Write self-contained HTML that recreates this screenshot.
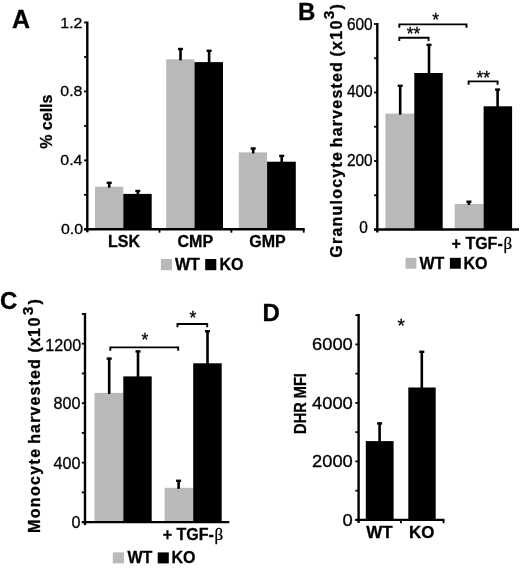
<!DOCTYPE html>
<html><head><meta charset="utf-8"><title>Figure</title>
<style>
html,body{margin:0;padding:0;background:#fff;}
svg{display:block;font-family:"Liberation Sans",sans-serif;fill:#000;filter:blur(0.45px);}
text{stroke:#000;stroke-width:0.3px;}
</style></head><body>
<svg width="520" height="570" viewBox="0 0 520 570">
<rect x="0" y="0" width="520" height="570" fill="#fff"/>
<text transform="translate(12 28) scale(1.0 1)" font-size="25" font-weight="bold" text-anchor="start">A</text>
<rect x="95" y="186.7" width="28.3" height="42.6" fill="#b9b9b9"/>
<line x1="109.2" y1="182.1" x2="109.2" y2="187.7" stroke="#000" stroke-width="2.6"/>
<rect x="106.7" y="181.6" width="5.0" height="2.4" fill="#000"/>
<rect x="123.3" y="193.9" width="28.4" height="35.4" fill="#000"/>
<line x1="137.8" y1="190.3" x2="137.8" y2="194.9" stroke="#000" stroke-width="2.6"/>
<rect x="135.3" y="189.8" width="5.0" height="2.4" fill="#000"/>
<rect x="166.2" y="59.3" width="28.3" height="170.0" fill="#b9b9b9"/>
<line x1="180.5" y1="48.3" x2="180.5" y2="60.3" stroke="#000" stroke-width="2.6"/>
<rect x="178.0" y="47.8" width="5.0" height="2.4" fill="#000"/>
<rect x="194.5" y="62.1" width="28.5" height="167.2" fill="#000"/>
<line x1="209.1" y1="50.1" x2="209.1" y2="63.1" stroke="#000" stroke-width="2.6"/>
<rect x="206.6" y="49.6" width="5.0" height="2.4" fill="#000"/>
<rect x="238.8" y="152.4" width="28.3" height="76.9" fill="#b9b9b9"/>
<line x1="253.2" y1="147.8" x2="253.2" y2="153.4" stroke="#000" stroke-width="2.6"/>
<rect x="250.7" y="147.3" width="5.0" height="2.4" fill="#000"/>
<rect x="267.1" y="161.7" width="28.7" height="67.6" fill="#000"/>
<line x1="281.7" y1="155.2" x2="281.7" y2="162.7" stroke="#000" stroke-width="2.6"/>
<rect x="279.2" y="154.7" width="5.0" height="2.4" fill="#000"/>
<text transform="translate(124 246.5) scale(1.0 1)" font-size="16" font-weight="bold" text-anchor="middle">LSK</text>
<text transform="translate(195.3 246.5) scale(1.0 1)" font-size="16" font-weight="bold" text-anchor="middle">CMP</text>
<text transform="translate(267.5 246.5) scale(1.0 1)" font-size="16" font-weight="bold" text-anchor="middle">GMP</text>
<text transform="translate(52.4 121.7) rotate(-90) scale(1.0 1)" font-size="16" font-weight="bold" text-anchor="middle">% cells</text>
<rect x="160.9" y="259" width="11.1" height="11.2" fill="#b9b9b9"/>
<text transform="translate(175 270) scale(1.0 1)" font-size="16" font-weight="bold" text-anchor="start">WT</text>
<rect x="205.2" y="259" width="11.1" height="11.2" fill="#000"/>
<text transform="translate(219.5 270) scale(1.0 1)" font-size="16" font-weight="bold" text-anchor="start">KO</text>
<text transform="translate(298 19.8) scale(1.0 1)" font-size="24" font-weight="bold" text-anchor="start">B</text>
<rect x="385.4" y="113.6" width="28.9" height="115.9" fill="#b9b9b9"/>
<line x1="400.2" y1="85.1" x2="400.2" y2="114.6" stroke="#000" stroke-width="2.6"/>
<rect x="397.7" y="84.6" width="5.0" height="2.4" fill="#000"/>
<rect x="414.3" y="73" width="28.4" height="156.5" fill="#000"/>
<line x1="429" y1="44.2" x2="429" y2="74" stroke="#000" stroke-width="2.6"/>
<rect x="426.5" y="43.7" width="5.0" height="2.4" fill="#000"/>
<rect x="454.7" y="203.9" width="28.9" height="25.6" fill="#b9b9b9"/>
<line x1="468.9" y1="201.0" x2="468.9" y2="204.9" stroke="#000" stroke-width="2.6"/>
<rect x="466.4" y="200.5" width="5.0" height="2.4" fill="#000"/>
<rect x="483.6" y="106.3" width="28.5" height="123.2" fill="#000"/>
<line x1="497.6" y1="88.9" x2="497.6" y2="107.3" stroke="#000" stroke-width="2.6"/>
<rect x="495.1" y="88.4" width="5.0" height="2.4" fill="#000"/>
<path d="M399.3 27.7V24.4H466.5V27.7" fill="none" stroke="#000" stroke-width="1.9"/>
<text transform="translate(435.6 26.3) scale(1.0 1)" font-size="17.5" text-anchor="middle">*</text>
<path d="M399.3 41.099999999999994V37.8H428.6V41.099999999999994" fill="none" stroke="#000" stroke-width="1.9"/>
<text transform="translate(413.6 40.2) scale(1.0 1)" font-size="17.5" text-anchor="middle">**</text>
<path d="M468.6 84.7V81.4H497.6V84.7" fill="none" stroke="#000" stroke-width="1.9"/>
<text transform="translate(483.3 84.0) scale(1.0 1)" font-size="17.5" text-anchor="middle">**</text>
<text transform="translate(451.6 248.7) scale(1.0 1)" font-size="16" font-weight="bold" text-anchor="start">+ TGF-<tspan font-family="Liberation Serif,serif" font-weight="normal" font-size="17" dx="0.7">β</tspan></text>
<text transform="translate(341.6 257.7) rotate(-90) scale(1 1)" font-size="16" font-weight="bold" text-anchor="start" letter-spacing="1.23">Granulocyte</text>
<text transform="translate(341.6 147.3) rotate(-90) scale(1 1)" font-size="16" font-weight="bold" text-anchor="start" letter-spacing="1.2">harvested</text>
<text transform="translate(341.6 56.6) rotate(-90) scale(1 1)" font-size="16" font-weight="bold" text-anchor="start" letter-spacing="1.3">(x10<tspan font-size="15.5" dy="-7.4">3</tspan><tspan dy="7.4">)</tspan></text>
<rect x="405.5" y="257.8" width="10.9" height="10.9" fill="#b9b9b9"/>
<text transform="translate(419.5 268.6) scale(1.0 1)" font-size="16" font-weight="bold" text-anchor="start">WT</text>
<rect x="449.9" y="257.8" width="10.9" height="10.9" fill="#000"/>
<text transform="translate(463.5 268.6) scale(1.0 1)" font-size="16" font-weight="bold" text-anchor="start">KO</text>
<text transform="translate(0 309) scale(1.0 1)" font-size="24" font-weight="bold" text-anchor="start">C</text>
<rect x="94.5" y="392.9" width="28.8" height="129.2" fill="#b9b9b9"/>
<line x1="109.2" y1="357.9" x2="109.2" y2="393.9" stroke="#000" stroke-width="2.6"/>
<rect x="106.7" y="357.4" width="5.0" height="2.4" fill="#000"/>
<rect x="123.3" y="376.4" width="28.4" height="145.7" fill="#000"/>
<line x1="138" y1="350.7" x2="138" y2="377.4" stroke="#000" stroke-width="2.6"/>
<rect x="135.5" y="350.2" width="5.0" height="2.4" fill="#000"/>
<rect x="164.6" y="487.8" width="28.6" height="34.3" fill="#b9b9b9"/>
<line x1="178.6" y1="480.1" x2="178.6" y2="488.8" stroke="#000" stroke-width="2.6"/>
<rect x="176.1" y="479.6" width="5.0" height="2.4" fill="#000"/>
<rect x="193.2" y="363.3" width="28.5" height="158.8" fill="#000"/>
<line x1="207.5" y1="330.6" x2="207.5" y2="364.3" stroke="#000" stroke-width="2.6"/>
<rect x="205.0" y="330.1" width="5.0" height="2.4" fill="#000"/>
<path d="M110.3 350.7V347.4H178.2V350.7" fill="none" stroke="#000" stroke-width="1.9"/>
<text transform="translate(145 346.3) scale(1.0 1)" font-size="17.5" text-anchor="middle">*</text>
<path d="M177.5 327.3V324H207.2V327.3" fill="none" stroke="#000" stroke-width="1.9"/>
<text transform="translate(192.8 323.6) scale(1.0 1)" font-size="17.5" text-anchor="middle">*</text>
<text transform="translate(162.7 540.2) scale(1.0 1)" font-size="16" font-weight="bold" text-anchor="start">+ TGF-<tspan font-family="Liberation Serif,serif" font-weight="normal" font-size="17" dx="0.7">β</tspan></text>
<text transform="translate(39.9 532.9) rotate(-90) scale(1 1)" font-size="16" font-weight="bold" text-anchor="start" letter-spacing="1.33">Monocyte</text>
<text transform="translate(39.9 443.8) rotate(-90) scale(1 1)" font-size="16" font-weight="bold" text-anchor="start" letter-spacing="1.13">harvested</text>
<text transform="translate(39.9 352.1) rotate(-90)" font-size="16" font-weight="bold" letter-spacing="1.4" dx="-0.3 -0.6 -1.1 0.3">(x10<tspan font-size="15.5" dy="-7.4" dx="0.8">3</tspan><tspan dy="7.4" dx="0.9">)</tspan></text>
<rect x="112.8" y="552.4" width="11.2" height="11.0" fill="#b9b9b9"/>
<text transform="translate(127.5 563.2) scale(1.0 1)" font-size="16" font-weight="bold" text-anchor="start">WT</text>
<rect x="157.7" y="552.4" width="11.1" height="11.0" fill="#000"/>
<text transform="translate(171.5 563.2) scale(1.0 1)" font-size="16" font-weight="bold" text-anchor="start">KO</text>
<text transform="translate(262.5 320.9) scale(1.0 1)" font-size="24" font-weight="bold" text-anchor="start">D</text>
<rect x="365.8" y="441.1" width="27.8" height="78.8" fill="#000"/>
<line x1="379.6" y1="422.7" x2="379.6" y2="442.1" stroke="#000" stroke-width="2.6"/>
<rect x="377.1" y="422.2" width="5.0" height="2.4" fill="#000"/>
<rect x="408.3" y="387.5" width="27.4" height="132.4" fill="#000"/>
<line x1="421.8" y1="351.1" x2="421.8" y2="388.5" stroke="#000" stroke-width="2.6"/>
<rect x="419.3" y="350.6" width="5.0" height="2.4" fill="#000"/>
<text transform="translate(401.2 331.5) scale(1.0 1)" font-size="19" text-anchor="middle">*</text>
<text transform="translate(379.5 537.5) scale(1.06 1)" font-size="16" font-weight="bold" text-anchor="middle">WT</text>
<text transform="translate(421.7 537.5) scale(1.06 1)" font-size="16" font-weight="bold" text-anchor="middle">KO</text>
<text transform="translate(306.3 403.5) rotate(-90) scale(0.885 1)" font-size="16.5" font-weight="bold" text-anchor="middle">DHR MFI</text>
<line x1="87.3" y1="21.6" x2="87.3" y2="232.3" stroke="#000" stroke-width="2.4"/>
<line x1="84.1" y1="229.3" x2="87.3" y2="229.3" stroke="#000" stroke-width="1.8"/>
<line x1="84.1" y1="194.83" x2="87.3" y2="194.83" stroke="#000" stroke-width="1.8"/>
<line x1="84.1" y1="160.37" x2="87.3" y2="160.37" stroke="#000" stroke-width="1.8"/>
<line x1="84.1" y1="125.9" x2="87.3" y2="125.9" stroke="#000" stroke-width="1.8"/>
<line x1="84.1" y1="91.43" x2="87.3" y2="91.43" stroke="#000" stroke-width="1.8"/>
<line x1="84.1" y1="56.97" x2="87.3" y2="56.97" stroke="#000" stroke-width="1.8"/>
<line x1="84.1" y1="22.5" x2="87.3" y2="22.5" stroke="#000" stroke-width="1.8"/>
<text transform="translate(82.4 28.28) scale(1.04 1)" font-size="15.3" text-anchor="end">1.2</text>
<text transform="translate(82.4 96.41) scale(1.04 1)" font-size="15.3" text-anchor="end">0.8</text>
<text transform="translate(82.4 165.34) scale(1.04 1)" font-size="15.3" text-anchor="end">0.4</text>
<text transform="translate(83.0 234.28) scale(1.04 1)" font-size="15.3" text-anchor="end">0.0</text>
<line x1="84.1" y1="229.3" x2="304.7" y2="229.3" stroke="#000" stroke-width="2.4"/>
<line x1="159.5" y1="229.3" x2="159.5" y2="232.7" stroke="#000" stroke-width="1.8"/>
<line x1="231.4" y1="229.3" x2="231.4" y2="232.7" stroke="#000" stroke-width="1.8"/>
<line x1="303.7" y1="229.3" x2="303.7" y2="232.7" stroke="#000" stroke-width="1.8"/>
<line x1="377.3" y1="23" x2="377.3" y2="232.5" stroke="#000" stroke-width="2.4"/>
<line x1="374.1" y1="229.5" x2="377.3" y2="229.5" stroke="#000" stroke-width="1.8"/>
<line x1="374.1" y1="195.25" x2="377.3" y2="195.25" stroke="#000" stroke-width="1.8"/>
<line x1="374.1" y1="161.0" x2="377.3" y2="161.0" stroke="#000" stroke-width="1.8"/>
<line x1="374.1" y1="126.75" x2="377.3" y2="126.75" stroke="#000" stroke-width="1.8"/>
<line x1="374.1" y1="92.5" x2="377.3" y2="92.5" stroke="#000" stroke-width="1.8"/>
<line x1="374.1" y1="58.25" x2="377.3" y2="58.25" stroke="#000" stroke-width="1.8"/>
<line x1="374.1" y1="24.0" x2="377.3" y2="24.0" stroke="#000" stroke-width="1.8"/>
<text transform="translate(372.7 30.36) scale(0.98 1)" font-size="15.8" text-anchor="end">600</text>
<text transform="translate(372.7 97.16) scale(0.98 1)" font-size="15.8" text-anchor="end">400</text>
<text transform="translate(372.7 165.66) scale(0.98 1)" font-size="15.8" text-anchor="end">200</text>
<text transform="translate(367.9 232.66) scale(0.98 1)" font-size="15.8" text-anchor="end">0</text>
<line x1="374.1" y1="229.5" x2="519" y2="229.5" stroke="#000" stroke-width="2.4"/>
<line x1="85.0" y1="313" x2="85.0" y2="525.1" stroke="#000" stroke-width="2.4"/>
<line x1="81.8" y1="522.1" x2="85.0" y2="522.1" stroke="#000" stroke-width="1.8"/>
<line x1="81.8" y1="492.37" x2="85.0" y2="492.37" stroke="#000" stroke-width="1.8"/>
<line x1="81.8" y1="462.64" x2="85.0" y2="462.64" stroke="#000" stroke-width="1.8"/>
<line x1="81.8" y1="432.91" x2="85.0" y2="432.91" stroke="#000" stroke-width="1.8"/>
<line x1="81.8" y1="403.19" x2="85.0" y2="403.19" stroke="#000" stroke-width="1.8"/>
<line x1="81.8" y1="373.46" x2="85.0" y2="373.46" stroke="#000" stroke-width="1.8"/>
<line x1="81.8" y1="343.73" x2="85.0" y2="343.73" stroke="#000" stroke-width="1.8"/>
<line x1="81.8" y1="314.0" x2="85.0" y2="314.0" stroke="#000" stroke-width="1.8"/>
<text transform="translate(81.2 350.94) scale(0.96 1)" font-size="16.8" text-anchor="end">1200</text>
<text transform="translate(80.4 409.2) scale(0.96 1)" font-size="16.8" text-anchor="end">800</text>
<text transform="translate(80.4 468.66) scale(0.96 1)" font-size="16.8" text-anchor="end">400</text>
<text transform="translate(80.4 528.11) scale(0.96 1)" font-size="16.8" text-anchor="end">0</text>
<line x1="81.8" y1="522.1" x2="229.3" y2="522.1" stroke="#000" stroke-width="2.4"/>
<line x1="358.6" y1="313.9" x2="358.6" y2="522.9" stroke="#000" stroke-width="2.4"/>
<line x1="355.4" y1="519.9" x2="358.6" y2="519.9" stroke="#000" stroke-width="1.8"/>
<line x1="355.4" y1="490.65" x2="358.6" y2="490.65" stroke="#000" stroke-width="1.8"/>
<line x1="355.4" y1="461.4" x2="358.6" y2="461.4" stroke="#000" stroke-width="1.8"/>
<line x1="355.4" y1="432.15" x2="358.6" y2="432.15" stroke="#000" stroke-width="1.8"/>
<line x1="355.4" y1="402.9" x2="358.6" y2="402.9" stroke="#000" stroke-width="1.8"/>
<line x1="355.4" y1="373.65" x2="358.6" y2="373.65" stroke="#000" stroke-width="1.8"/>
<line x1="355.4" y1="344.4" x2="358.6" y2="344.4" stroke="#000" stroke-width="1.8"/>
<line x1="355.4" y1="315.15" x2="358.6" y2="315.15" stroke="#000" stroke-width="1.8"/>
<text transform="translate(352.8 350.11) scale(1.11 1)" font-size="16.5" text-anchor="end">6000</text>
<text transform="translate(352.8 408.61) scale(1.11 1)" font-size="16.5" text-anchor="end">4000</text>
<text transform="translate(352.8 467.11) scale(1.11 1)" font-size="16.5" text-anchor="end">2000</text>
<text transform="translate(352.8 525.61) scale(1.11 1)" font-size="16.5" text-anchor="end">0</text>
<line x1="355.4" y1="519.9" x2="444.4" y2="519.9" stroke="#000" stroke-width="2.4"/>
<line x1="401" y1="519.9" x2="401" y2="523.3" stroke="#000" stroke-width="1.8"/>
<line x1="443.5" y1="519.9" x2="443.5" y2="523.3" stroke="#000" stroke-width="1.8"/>
</svg>
</body></html>
